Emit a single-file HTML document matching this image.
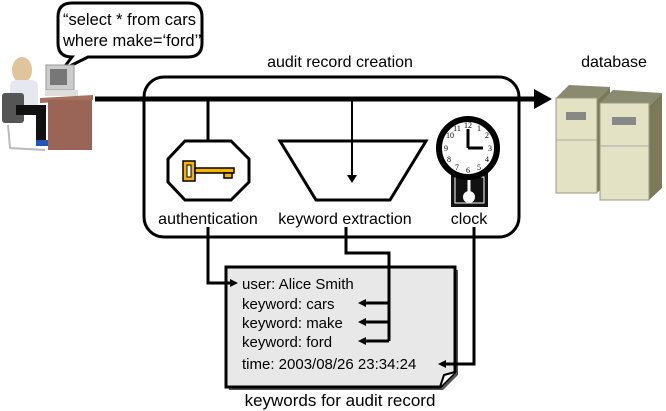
<!DOCTYPE html>
<html><head><meta charset="utf-8"><style>
html,body{margin:0;padding:0;background:#fff;}
svg{display:block;font-family:"Liberation Sans",sans-serif;}
</style></head><body>
<svg width="666" height="411" viewBox="0 0 666 411" xmlns="http://www.w3.org/2000/svg">
<!-- speech bubble -->
<path d="M72,57 L62,70 L88,57 L188,57 Q202,57 202,43 L202,17 Q202,3 188,3 L72,3 Q58,3 58,17 L58,43 Q58,57 72,57 Z" fill="#fff" stroke="#000" stroke-width="3"/>
<text x="63" y="25" font-size="16.5">“select * from cars</text>
<text x="63" y="46" font-size="16.5">where make=‘ford’”</text>
<!-- person -->
<rect x="46" y="65" width="28" height="25" fill="#ccc" stroke="#999"/>
<rect x="50" y="69" width="17" height="16" fill="#777"/>
<rect x="45" y="90" width="33" height="6" fill="#ddd"/>
<polygon points="40,98 93,95 93,100 40,103" fill="#a67060"/>
<rect x="48" y="100" width="44" height="50" fill="#9a6456"/>
<ellipse cx="22" cy="70" rx="10" ry="13" fill="#e0c49a"/>
<rect x="10" y="80" width="28" height="28" rx="6" fill="#e6e8f0"/>
<rect x="2" y="93" width="22" height="30" rx="3" fill="#555"/>
<rect x="16" y="105" width="30" height="10" fill="#111"/>
<rect x="36" y="110" width="10" height="32" fill="#111"/>
<rect x="36" y="140" width="12" height="6" fill="#2255bb"/>
<path d="M8,125 L10,148 L45,150" fill="none" stroke="#bbb" stroke-width="2"/>
<!-- rounded box -->
<rect x="144" y="77" width="375" height="160" rx="20" fill="none" stroke="#000" stroke-width="3"/>
<text x="340" y="67" font-size="16" text-anchor="middle">audit record creation</text>
<!-- main arrow -->
<line x1="95" y1="99" x2="538" y2="99" stroke="#000" stroke-width="5"/>
<polygon points="534,89 552,99 534,109" fill="#000"/>
<!-- auth -->
<line x1="208" y1="99" x2="208" y2="141" stroke="#000" stroke-width="3"/>
<polygon points="185,141 231,141 249,159 249,182 231,200 185,200 168,182 168,159" fill="#fff" stroke="#000" stroke-width="3"/>
<rect x="183" y="161" width="12" height="20" fill="#f5b400" stroke="#000" stroke-width="1.5"/>
<rect x="187" y="165" width="4" height="12" fill="#fff" stroke="#000"/>
<rect x="195" y="168" width="39" height="5" fill="#f5b400" stroke="#000" stroke-width="1.5"/>
<rect x="224" y="173" width="8" height="5" fill="#f5b400" stroke="#000" stroke-width="1.5"/>
<text x="208" y="224" font-size="16" text-anchor="middle">authentication</text>
<!-- keyword extraction -->
<polygon points="280,141 426,141 390,200 316,200" fill="#fff" stroke="#000" stroke-width="3"/>
<line x1="352" y1="99" x2="352" y2="176" stroke="#000" stroke-width="2"/>
<polygon points="347,175 357,175 352,183" fill="#000"/>
<text x="345" y="224" font-size="16" text-anchor="middle">keyword extraction</text>
<!-- clock -->
<rect x="451" y="173" width="37" height="34" fill="#111"/>
<rect x="455" y="177" width="29" height="26" fill="none" stroke="#fff" stroke-width="1"/>
<line x1="469" y1="175" x2="469" y2="195" stroke="#fff" stroke-width="3"/>
<circle cx="469" cy="197" r="6" fill="#fff"/>
<circle cx="470" cy="150" r="29" fill="#555"/>
<circle cx="468" cy="148" r="29" fill="#fff" stroke="#000" stroke-width="6"/>
<g font-family="Liberation Serif,serif" font-size="8" text-anchor="middle">
<text x="468" y="128">12</text><text x="479" y="131">1</text><text x="487" y="138">2</text><text x="490" y="151">3</text><text x="487" y="162">4</text><text x="479" y="170">5</text><text x="468" y="173">6</text><text x="457" y="170">7</text><text x="449" y="162">8</text><text x="446" y="151">9</text><text x="450" y="138">10</text><text x="457" y="131">11</text>
</g>
<line x1="468" y1="148" x2="468" y2="129" stroke="#000" stroke-width="3"/>
<line x1="468" y1="148" x2="483" y2="148" stroke="#000" stroke-width="3"/>
<text x="469" y="224" font-size="16" text-anchor="middle">clock</text>
<!-- database -->
<text x="614" y="67" font-size="16" text-anchor="middle">database</text>
<g>
<polygon points="556,98 569,85 610,87 597,100" fill="#8a8a70"/>
<polygon points="597,100 610,87 610,180 597,193" fill="#7a7a58"/>
<rect x="556" y="98" width="41" height="95" fill="#e4e2c4" stroke="#9a9a80"/>
<polygon points="600,103 613,90 662,93 649,106" fill="#8a8a70"/>
<polygon points="649,106 662,93 662,188 649,200" fill="#7a7a58"/>
<rect x="600" y="103" width="49" height="97" fill="#e4e2c4" stroke="#9a9a80"/>
<line x1="556" y1="140" x2="597" y2="140" stroke="#aaa"/>
<line x1="600" y1="146" x2="649" y2="146" stroke="#aaa"/>
<rect x="566" y="112" width="20" height="8" fill="#888"/>
<rect x="612" y="117" width="24" height="8" fill="#888"/>
</g>
<!-- document -->
<path d="M226,267 L455,267 L455,372 L440,387 L226,387 Z" fill="#555" transform="translate(3,3)"/>
<path d="M226,267 L455,267 L455,372 L440,387 L226,387 Z" fill="#e8e8e8" stroke="#000" stroke-width="3"/>
<path d="M440,387 L444,375 L455,372" fill="#fff" stroke="#000" stroke-width="2"/>
<g font-size="15">
<text x="242" y="289">user: Alice Smith</text>
<text x="242" y="309">keyword: cars</text>
<text x="242" y="328">keyword: make</text>
<text x="242" y="347">keyword: ford</text>
<text x="242" y="369">time: 2003/08/26 23:34:24</text>
</g>
<text x="340" y="406" font-size="17" text-anchor="middle">keywords for audit record</text>
<!-- connectors -->
<g fill="none" stroke="#000" stroke-width="3">
<path d="M208,227 L208,283 L232,283"/>
<path d="M346,227 L346,253 L389,253 L389,341"/>
<path d="M389,303 L364,303 M389,322 L364,322 M389,341 L364,341"/>
<path d="M474,227 L474,364 L446,364"/>
</g>
<g fill="#000">
<polygon points="238,283 230,279 230,287"/>
<polygon points="358,303 366,299 366,307"/>
<polygon points="358,322 366,318 366,326"/>
<polygon points="358,341 366,337 366,345"/>
<polygon points="438,364 446,360 446,368"/>
</g>
</svg>
</body></html>
